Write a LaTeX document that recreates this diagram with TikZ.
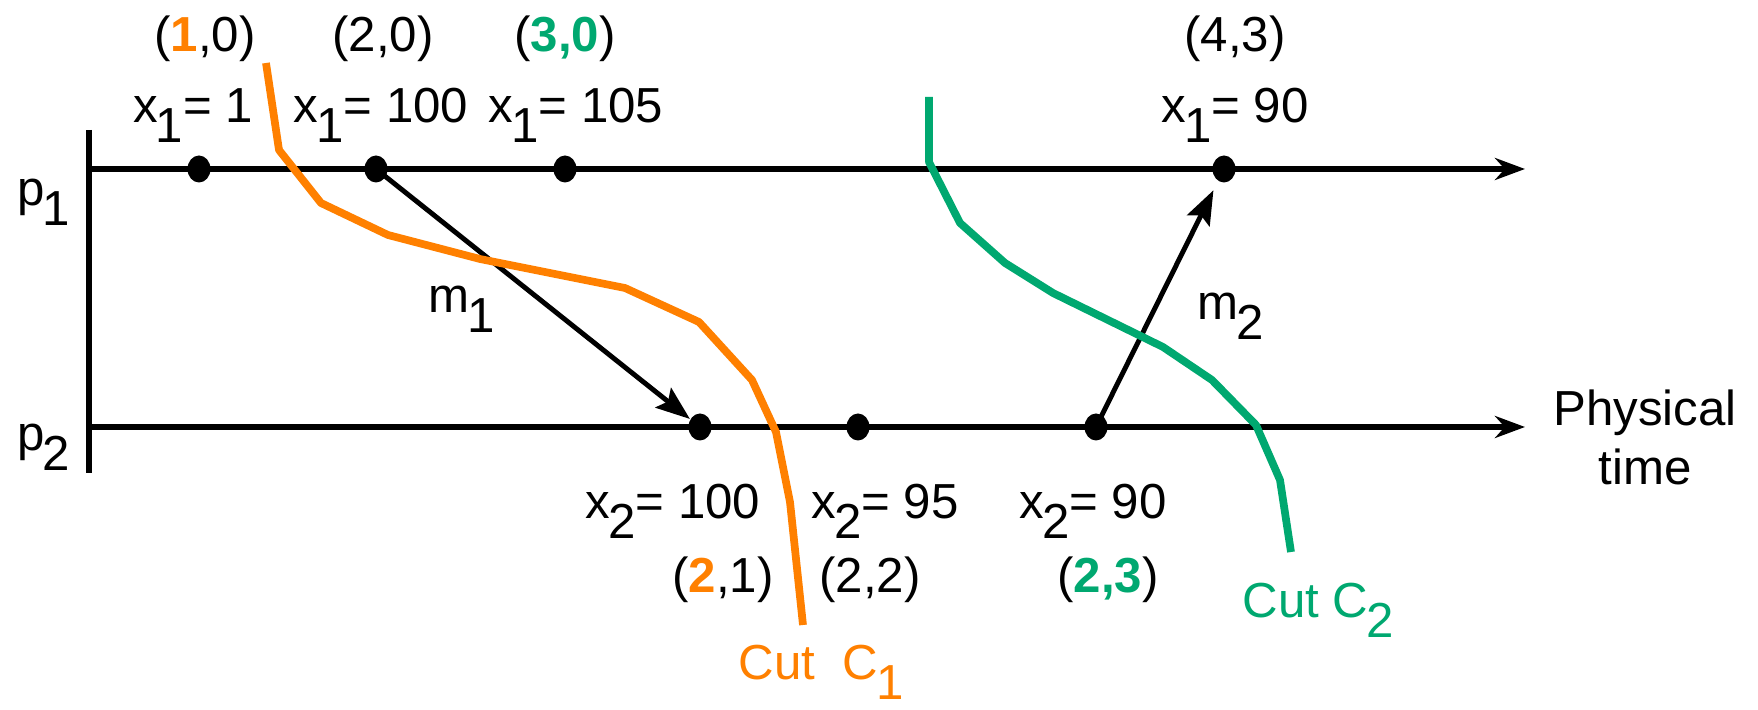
\documentclass[tikz,border=0pt]{standalone}
\usepackage{fontspec}
\setmainfont{Liberation Sans}
\usepackage{xcolor}
\usepackage{tikz}
\usetikzlibrary{arrows.meta,shapes.geometric}
\definecolor{cutorange}{RGB}{255,128,0}
\definecolor{cutgreen}{RGB}{0,168,112}
\newcommand{\lsub}[1]{\kern-0.6pt\raisebox{-5.5pt}{#1}}
\tikzset{
	event/.style={fill=black, ellipse, minimum width=2.3mm, minimum height=2.7mm, inner sep=0pt},
	timeline/.style={line width=1.6pt, -{Stealth[length=3mm, width=2.2mm]}},
	msg/.style={line width=1.4pt, -{Stealth[length=3.4mm, width=2.5mm, inset=0.6mm]}},
	cut/.style={line width=2.2pt, line join=round},
	lbl/.style={anchor=base, inner sep=0pt, font=\fontsize{14}{17}\selectfont}
}

\begin{document}
\begin{tikzpicture}[x=0.1mm, y=-0.1mm]
	\useasboundingbox (0,0) rectangle (1758,710);
	% process lines
	\coordinate (top) at (89,130);
	\coordinate (bot) at (89,473);
	\coordinate (p1s) at (89,169);
	\coordinate (p1e) at (1525,169);
	\coordinate (p2s) at (89,427);
	\coordinate (p2e) at (1525,427);
	\draw[line width=1.8pt] (top) -- (bot);
	\draw[timeline] (p1s) -- (p1e);
	\draw[timeline] (p2s) -- (p2e);
	\node[lbl, anchor=base west] (p1) at (17,206) {p\lsub{1}};
	\node[lbl, anchor=base west] (p2) at (17,451) {p\lsub{2}};
	\node[lbl, align=center] (phys) at (1645,485) {Physical\\time};
	% events
	\node[event] (a1) at (199,169) {};
	\node[event] (a2) at (376,169) {};
	\node[event] (a3) at (565,169) {};
	\node[event] (a4) at (1224,169) {};
	\node[event] (b1) at (700,427) {};
	\node[event] (b2) at (858,427) {};
	\node[event] (b3) at (1096,427) {};
	% messages
	\draw[msg] (a2.center) -- (b1);
	\draw[msg, shorten >=1mm] (b3.center) -- (a4);
	\node[lbl, anchor=base west] (m1) at (428,313) {m\lsub{1}};
	\node[lbl, anchor=base west] (m2) at (1197,320) {m\lsub{2}};
	% labels on p1
	\node[lbl] (t1) at (205,52) {({\color{cutorange}\textbf{1}},0)};
	\node[lbl] (t2) at (383,52) {(2,0)};
	\node[lbl] (t3) at (565,52) {({\color{cutgreen}\textbf{3,0}})};
	\node[lbl] (t4) at (1235,52) {(4,3)};
	\node[lbl] (v1) at (193,123) {x\lsub{1}= 1};
	\node[lbl] (v2) at (381,123) {x\lsub{1}= 100};
	\node[lbl] (v3) at (576,123) {x\lsub{1}= 105};
	\node[lbl] (v4) at (1235,123) {x\lsub{1}= 90};
	% labels on p2
	\node[lbl] (w1) at (673,519) {x\lsub{2}= 100};
	\node[lbl] (w2) at (885,519) {x\lsub{2}= 95};
	\node[lbl] (w3) at (1093,519) {x\lsub{2}= 90};
	\node[lbl] (s1) at (723,593) {({\color{cutorange}\textbf{2}},1)};
	\node[lbl] (s2) at (870,593) {(2,2)};
	\node[lbl] (s3) at (1108,593) {({\color{cutgreen}\textbf{2,3}})};
	% cuts
	\draw[cut, cutorange] (266,63) -- (279,150) -- (321,203) -- (388,235) -- (480,259)
		-- (625,288) -- (699,322) -- (752,380) -- (776,432) -- (790,502) -- (803,625);
	\draw[cut, cutgreen] (929,97) -- (929,162) -- (960,223) -- (1005,263) -- (1053,293)
		-- (1163,347) -- (1212,380) -- (1256,425) -- (1280,480) -- (1291,552);
	\node[lbl, anchor=base west, text=cutorange] (c1) at (738,680) {Cut~~C\lsub{1}};
	\node[lbl, anchor=base west, text=cutgreen] (c2) at (1242,618) {Cut C\lsub{2}};
\end{tikzpicture}
\end{document}
